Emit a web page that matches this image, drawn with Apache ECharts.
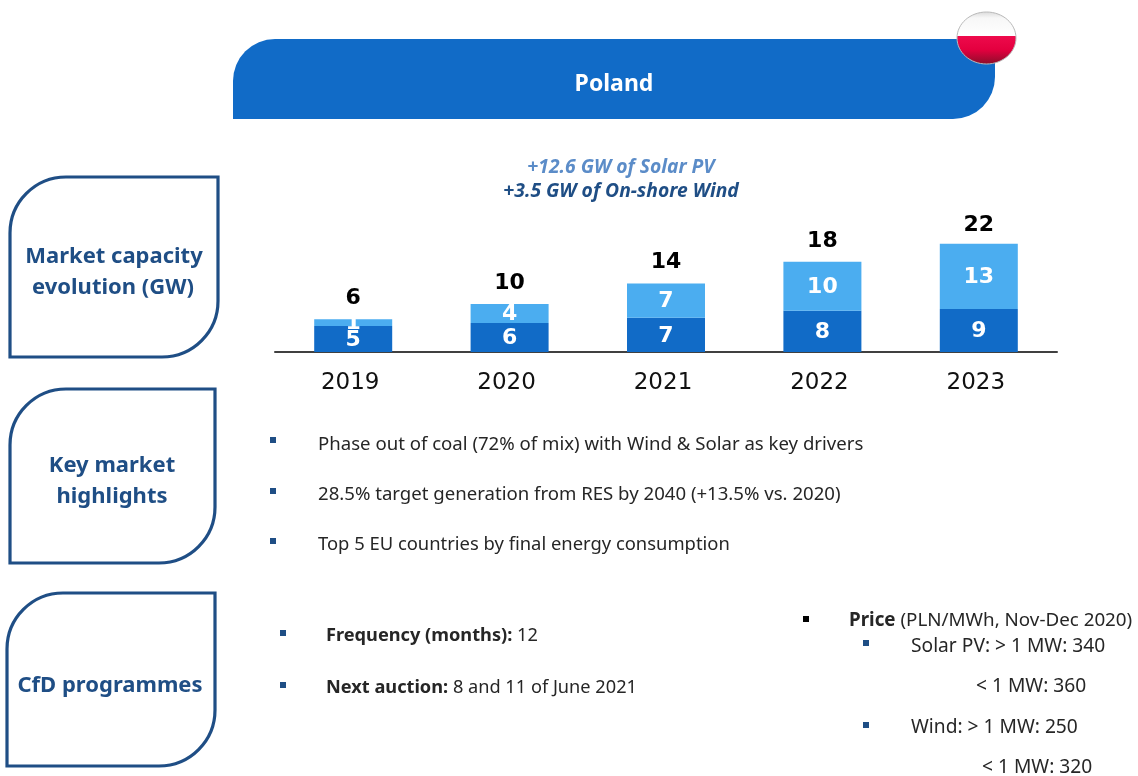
<!DOCTYPE html>
<html><head><meta charset="utf-8">
<style>html,body{margin:0;padding:0;background:#fff}#c{width:1138px;height:776px}</style>
<script src="https://cdn.jsdelivr.net/npm/echarts@6/dist/echarts.min.js"></script>
</head><body><div id="c"></div>
<script>
const years = ['2019','2020','2021','2022','2023'];
const windValues = [5.3,5.9,7,8.4,8.8];
const solarValues = [1.4,3.9,7,10,13.3];
const windLabels = [5,6,7,8,9];
const solarLabels = [1,4,7,10,13];
const totalLabels = [6,10,14,18,22];
const BLUE='#116BC7', LIGHT='#4BADF0', NAVY='#1F4E85', SANS='"Noto Sans"', TXT='#262626';
const chart = echarts.init(document.getElementById('c'));

function box(x,y,w,h){return {type:'rect',shape:{x,y,width:w,height:h,r:[56,0,56,0]},style:{fill:'#fff',stroke:NAVY,lineWidth:3.2},z:1};}
function txt(x,y,text,o){return {type:'text',x,y,z:5,style:Object.assign({text,fontFamily:SANS,fontSize:18.6,fill:TXT,verticalAlign:'middle',align:'left'},o||{})};}
function head(x,y,text){return txt(x,y,text,{fontSize:22,fontWeight:'bold',fill:NAVY,align:'center'});}
function bullet(x,y,c){return {type:'rect',shape:{x:x-3,y:y-3,width:6,height:6},style:{fill:c||NAVY},z:5};}
function richAt(size){return {b:{fontWeight:'bold',fontFamily:SANS,fontSize:size,fill:TXT}};}

const graphic=[
 {type:'rect',shape:{x:233,y:39,width:762,height:80,r:[42,0,42,0]},style:{fill:BLUE},z:1},
 {type:'ellipse',shape:{cx:986.5,cy:38,rx:29.5,ry:26},z:3,style:{stroke:'#b9b9b9',lineWidth:1,fill:new echarts.graphic.LinearGradient(0,0,0,1,[
   {offset:0,color:'#d9d9d9'},{offset:.12,color:'#f7f7f7'},{offset:.46,color:'#ffffff'},{offset:.46,color:'#ee0a4c'},{offset:.72,color:'#e4003f'},{offset:1,color:'#8a0e2a'}])}},
 txt(614,84,'Poland',{fontSize:23,fontWeight:'bold',fill:'#fff',align:'center'}),
 txt(621,168,'+12.6 GW of Solar PV',{fontSize:19.3,fontWeight:'bold',fontStyle:'italic',fill:'#5B8CC8',align:'center'}),
 txt(621,192,'+3.5 GW of On-shore Wind',{fontSize:19.3,fontWeight:'bold',fontStyle:'italic',fill:NAVY,align:'center'}),
 box(10,177,208,180), box(10,389,205,174), box(7,593,208,173),
 head(114,257,'Market capacity'), head(113,288,'evolution (GW)'),
 head(112,466,'Key market'), head(112,497,'highlights'),
 head(110,686,'CfD programmes'),
 bullet(273,440), txt(318,445,'Phase out of coal (72% of mix) with Wind & Solar as key drivers'),
 bullet(273,491), txt(318,495,'28.5% target generation from RES by 2040 (+13.5% vs. 2020)'),
 bullet(273,541), txt(318,545,'Top 5 EU countries by final energy consumption',{fontSize:18.4}),
 bullet(283,633), txt(326,636,'{b|Frequency (months):} 12',{rich:richAt(18.2),fontSize:18.2}),
 bullet(283,685), txt(326,688,'{b|Next auction:} 8 and 11 of June 2021',{rich:richAt(18.2),fontSize:18.2}),
 bullet(806,619,'#000'), txt(849,621,'{b|Price} (PLN/MWh, Nov-Dec 2020)',{rich:richAt(18.8),fontSize:18.8}),
 bullet(866,643), txt(911,647,'Solar PV: > 1 MW: 340',{fontSize:19.2}),
 txt(976,687,'< 1 MW: 360',{fontSize:19.2}),
 bullet(866,725), txt(911,728,'Wind: > 1 MW: 250',{fontSize:19.2}),
 txt(982,768,'< 1 MW: 320',{fontSize:19.2})
];

function segLabel(arr){return {show:true,position:'inside',offset:[0,1],color:'#fff',fontFamily:'"DejaVu Sans"',fontWeight:'bold',fontSize:22,formatter:p=>arr[p.dataIndex]};}
chart.setOption({
 animation:false,
 backgroundColor:'#fff',
 graphic,
 grid:{left:275,right:81,top:107,height:245,containLabel:false},
 xAxis:{type:'category',data:years,axisTick:{show:false},
   axisLine:{lineStyle:{color:'#404040',width:2}},
   axisLabel:{color:'#111',fontFamily:'"DejaVu Sans"',fontSize:23,margin:20,padding:[0,6,0,0]}},
 yAxis:{type:'value',min:0,max:50,show:false},
 series:[
  {name:'Wind',type:'bar',stack:'t',barWidth:78,data:windValues,itemStyle:{color:BLUE},label:segLabel(windLabels)},
  {name:'Solar PV',type:'bar',stack:'t',barWidth:78,data:solarValues,itemStyle:{color:LIGHT},label:segLabel(solarLabels)},
  {name:'Total',type:'bar',stack:'t',barWidth:78,data:years.map((y,i)=>i===4?{value:0,label:{distance:7}}:0),itemStyle:{color:'transparent'},
   label:{show:true,position:'top',distance:10,color:'#000',fontFamily:'"DejaVu Sans"',fontWeight:'bold',fontSize:22,formatter:p=>totalLabels[p.dataIndex]}}
 ]
});
</script></body></html>
